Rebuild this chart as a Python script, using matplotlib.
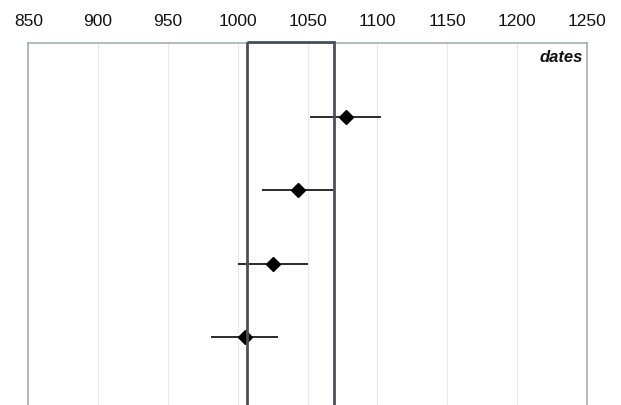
import matplotlib
matplotlib.use("Agg")
import matplotlib.pyplot as plt
from matplotlib.patches import Rectangle

plt.rcParams['font.family'] = ['Liberation Sans', 'DejaVu Sans']

# Data
dates = [1077.5, 1043, 1025.5, 1005]
errors = [25.5, 25.5, 25, 24]
positions = [0, 1, 2, 3]
range_lo, range_hi = 1007, 1069
xticks = [850, 900, 950, 1000, 1050, 1100, 1150, 1200, 1250]
panel_label = "dates"

W, H = 621, 406
fig = plt.figure(figsize=(W / 100, H / 100), dpi=100)
left = 28.3 / W
right = 586.7 / W
top_px = 44
bot_px = 420
ax = fig.add_axes([left, 1 - bot_px / H, right - left, (bot_px - top_px) / H])

ax.set_xlim(850, 1250)
ax.set_ylim(4.11, -1.0)
ax.set_xticks(xticks)
ax.set_xticklabels([str(t) for t in xticks], fontsize=12.5)
ax.xaxis.tick_top()
ax.tick_params(axis='x', length=0, pad=11, colors='#111111')
ax.set_yticks([])
ax.grid(axis='x', color='#e6e8ea', linewidth=0.8)
ax.set_axisbelow(True)
for s in ax.spines.values():
    s.set_color('#a4aeb8')
    s.set_linewidth(1.2)
ax.spines['bottom'].set_visible(False)

ax.errorbar(dates, positions, xerr=errors, fmt='D', color='black',
            ecolor='#2a2a2a', elinewidth=1.4, markersize=7, capsize=0, zorder=3)

rect = Rectangle((range_lo, -1.02), range_hi - range_lo, 6, fill=False,
                 edgecolor='#4a5058', linewidth=2.0, zorder=4, clip_on=False)
ax.add_patch(rect)

ax.text(0.993, 0.985, panel_label, transform=ax.transAxes, ha='right', va='top',
        fontsize=12, fontweight='bold', style='italic', color='#111111')

fig.savefig('out.png', dpi=100)
